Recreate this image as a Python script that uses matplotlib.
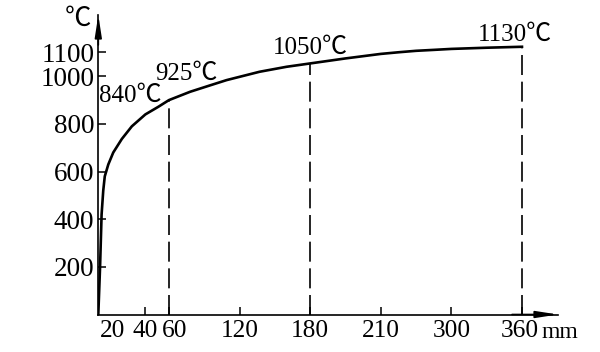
import numpy as np
import matplotlib
matplotlib.use('Agg')
import matplotlib.pyplot as plt
from matplotlib.transforms import ScaledTranslation

plt.rcParams['font.family'] = ['Liberation Serif', 'Noto Sans CJK SC', 'DejaVu Serif']

# ---- data ----
depth_mm = [0, 1.5, 2.8, 4.2, 5.5, 8.5, 12.7, 20, 28.5, 40, 51, 60, 78, 95, 109, 137,
            160, 180, 195, 210, 233, 255, 278, 300, 330, 360]
temp_c = [0, 200, 420, 520, 580, 630, 680, 737, 790, 840, 872, 900, 935, 962, 984, 1019,
          1040, 1054, 1075, 1094, 1101, 1107, 1111, 1115, 1120, 1124]

marker_depth = [60, 180, 360]
marker_temp = [900, 1054, 1124]

label_texts = ['840℃', '925℃', '1050℃', '1130℃']
label_depth = [27, 75, 180, 354]
label_temp = [917, 1010, 1119, 1173]

x_ticks = [20, 40, 60, 120, 180, 210, 300, 360]
x_ticklabels = ['20', '40', '60', '120', '180', '210', '300', '360']
y_ticks = [200, 400, 600, 800, 1000, 1100]
y_ticklabels = ['200', '400', '600', '800', '1000', '1100']

# non-linear (piecewise) depth axis as drawn in the original
scale_mm = [0, 60, 180, 210, 300, 360, 420]
scale_pos = [0, 1, 3, 4, 5, 6, 7]


def fwd(x):
    return np.interp(np.asarray(x, dtype=float), scale_mm, scale_pos)


def inv(p):
    return np.interp(np.asarray(p, dtype=float), scale_pos, scale_mm)


W, H = 600, 352
fig = plt.figure(figsize=(W / 100, H / 100), dpi=100)
x0, y0, x1, y1 = 98.3, 314.5, 558, 15
ax = fig.add_axes([x0 / W, (H - y0) / H, (x1 - x0) / W, (y0 - y1) / H])
ax.set_xscale('function', functions=(fwd, inv))
ax.set_xlim(0, inv(6.51))
ax.set_ylim(0, (y0 - y1) / 0.2382)

for s in ['top', 'right']:
    ax.spines[s].set_visible(False)
for s in ['left', 'bottom']:
    ax.spines[s].set_linewidth(1.2)

ax.plot(depth_mm, temp_c, color='black', lw=1.9, solid_joinstyle='round')
ax.vlines(marker_depth, 0, marker_temp, colors='black', lw=1.2,
          linestyles=[(0, (12, 4))])

for t, xd, yt in zip(label_texts, label_depth, label_temp):
    ax.text(xd, yt, t, fontsize=18, ha='center', va='center')

ax.set_xticks(x_ticks)
ax.set_xticklabels(x_ticklabels)
ax.set_yticks(y_ticks)
ax.set_yticklabels(y_ticklabels)
ax.xaxis.set_minor_locator(matplotlib.ticker.NullLocator())
ax.tick_params(axis='both', direction='in', length=6, width=1.1)
ax.tick_params(axis='x', pad=4, labelsize=18.3)
ax.tick_params(axis='y', pad=3, labelsize=19.5)

# crowded small labels nudged apart as in the original
ticks = ax.xaxis.get_major_ticks()
ticks[0].tick1line.set_visible(False)
for i, dx in [(0, -9), (2, 6), (7, -2)]:
    lab = ticks[i].label1
    lab.set_transform(lab.get_transform() + ScaledTranslation(dx / 100, 0, fig.dpi_scale_trans))

# axis arrows
ax.annotate('', xy=(1.0, 0), xytext=(0.9, 0), xycoords='axes fraction',
            arrowprops=dict(arrowstyle='-|>,head_length=1.1,head_width=0.17',
                            color='black', lw=1.2, mutation_scale=12, shrinkA=0, shrinkB=0))
ax.annotate('', xy=(0, 1.0), xytext=(0, 0.9), xycoords='axes fraction',
            arrowprops=dict(arrowstyle='-|>,head_length=1.1,head_width=0.17',
                            color='black', lw=1.2, mutation_scale=12, shrinkA=0, shrinkB=0))

ax.text((78 - x0) / (x1 - x0), (y0 - 20) / (y0 - y1), '℃', fontsize=19,
        ha='center', va='center', transform=ax.transAxes)
ax.text((541 - x0) / (x1 - x0), (y0 - 338) / (y0 - y1), 'mm', fontsize=17,
        ha='left', va='baseline', transform=ax.transAxes)

fig.savefig('out.png', dpi=100)
